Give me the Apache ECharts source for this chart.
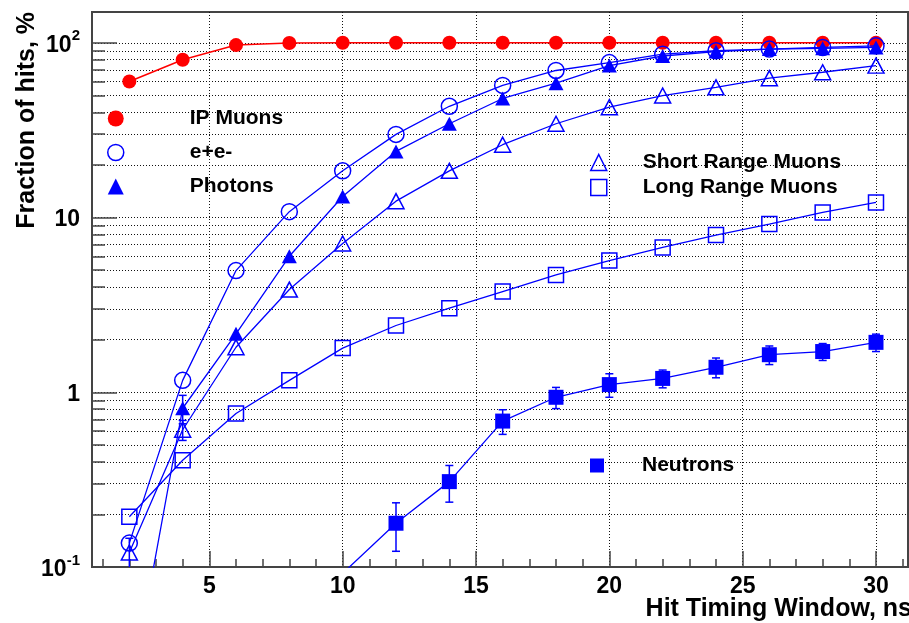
<!DOCTYPE html>
<html>
<head>
<meta charset="utf-8">
<script src="https://cdn.jsdelivr.net/npm/echarts@6/dist/echarts.min.js"></script>
<style>
html,body{margin:0;padding:0;background:#fff;}
#chart{width:909px;height:623px;}
</style>
</head>
<body>
<div id="chart"></div>
<script>
// ---- data ----
var xValues = [2, 4, 6, 8, 10, 12, 14, 16, 18, 20, 22, 24, 26, 28, 30];
var ipMuons = [60, 80, 97, 99.7, 100, 100, 100, 100, 100, 100, 100, 100, 100, 100, 100];
var eeValues = [0.137, 1.17, 4.97, 10.8, 18.5, 29.9, 43.3, 57, 69.4, 77, 86, 90, 92, 94, 96];
var photons = [0.0174, 0.81, 2.16, 6.0, 13.2, 23.9, 34.4, 48, 58.7, 74, 84, 89, 92, 93, 94];
var shortRange = [0.121, 0.61, 1.81, 3.87, 7.1, 12.4, 18.5, 26.1, 34.4, 42.8, 49.9, 55.6, 62.7, 67.8, 74];
var longRange = [0.194, 0.408, 0.756, 1.17, 1.79, 2.41, 3.03, 3.77, 4.69, 5.67, 6.74, 7.94, 9.17, 10.7, 12.2];
var neutronX = [10, 12, 14, 16, 18, 20, 22, 24, 26, 28, 30];
var neutrons = [0.092, 0.178, 0.308, 0.684, 0.936, 1.106, 1.2, 1.39, 1.64, 1.71, 1.93];
var neutronErr = [0, 0.055, 0.073, 0.11, 0.13, 0.17, 0.14, 0.18, 0.2, 0.19, 0.22];
var shortErrX = [2, 4];
var shortErr = [0.025, 0.08];
var photonErrX = [4];
var photonErr = [0.15];
var xMajorTicks = [5, 10, 15, 20, 25, 30];
var xMinorTicks = [1,2,3,4,6,7,8,9,11,12,13,14,16,17,18,19,21,22,23,24,26,27,28,29,31];
var yMajorTicks = [0.1, 1, 10, 100];
var yMinorTicks = [0.2,0.3,0.4,0.5,0.6,0.7,0.8,0.9,2,3,4,5,6,7,8,9,20,30,40,50,60,70,80,90];
var legendA = ['IP Muons', 'e+e-', 'Photons'];
var legendB = ['Short Range Muons', 'Long Range Muons'];
var legendC = ['Neutrons'];

function pairs(xs, ys) { return xs.map(function (x, i) { return [x, ys[i]]; }); }
function errs(xs, ys, es) { return xs.map(function (x, i) { return [x, ys[i] - es[i], ys[i] + es[i]]; }); }
function findY(xs, ys, x) { return ys[xs.indexOf(x)]; }

var FONT = "'Liberation Sans', Arial, Helvetica, sans-serif";
var BLUE = '#0000ff';
var RED = '#ff0000';
var OPEN = { color: 'rgba(0,0,0,0)', borderColor: BLUE, borderWidth: 1.5 };

function errRender(params, api) {
  var x = api.value(0), lo = api.value(1), hi = api.value(2);
  if (!(hi > lo)) return null;
  var p1 = api.coord([x, lo]), p2 = api.coord([x, hi]);
  var st = { stroke: BLUE, lineWidth: 1.5 };
  return {
    type: 'group',
    children: [
      { type: 'line', shape: { x1: p1[0], y1: p1[1], x2: p2[0], y2: p2[1] }, style: st },
      { type: 'line', shape: { x1: p1[0] - 4, y1: p1[1], x2: p1[0] + 4, y2: p1[1] }, style: st },
      { type: 'line', shape: { x1: p2[0] - 4, y1: p2[1], x2: p2[0] + 4, y2: p2[1] }, style: st }
    ]
  };
}

var dotted = { show: true, lineStyle: { color: '#111', width: 1, type: [1, 2] } };
var axisCol = '#444';

var legendText = function (pad) {
  return {
    fontSize: 21, fontWeight: 'bold', color: '#000', fontFamily: FONT,
    rich: { p: { width: pad }, t: { fontSize: 21, fontWeight: 'bold', color: '#000', fontFamily: FONT, lineHeight: 22 } }
  };
};
var legendFmt = function (name) { return '{p| }{t|' + name + '}'; };

var option = {
  animation: false,
  backgroundColor: '#fff',
  grid: { left: 92, right: 1, top: 12, bottom: 56, show: true, borderColor: axisCol, borderWidth: 2, backgroundColor: 'rgba(0,0,0,0)' },
  xAxis: [
    {
      type: 'value', min: 0.6, max: 31.2, position: 'bottom',
      axisLine: { show: true, lineStyle: { color: axisCol, width: 2 } },
      axisTick: { show: true, inside: true, length: 16, customValues: xMajorTicks, lineStyle: { color: axisCol, width: 1.5 } },
      axisLabel: { show: true, customValues: xMajorTicks, fontSize: 23, fontWeight: 'bold', color: '#000', fontFamily: FONT, margin: 8 },
      splitLine: dotted
    },
    {
      type: 'value', min: 0.6, max: 31.2, position: 'bottom', gridIndex: 0, offset: 0,
      axisLine: { show: false },
      axisTick: { show: true, inside: true, length: 8, customValues: xMinorTicks, lineStyle: { color: axisCol, width: 1.5 } },
      axisLabel: { show: false },
      splitLine: { show: false }
    }
  ],
  yAxis: [
    {
      type: 'log', logBase: 10, min: 0.1, max: 150, position: 'left',
      axisLine: { show: true, lineStyle: { color: axisCol, width: 2 } },
      axisTick: { show: true, inside: true, length: 25, customValues: yMajorTicks, lineStyle: { color: axisCol, width: 1.5 } },
      axisLabel: {
        show: true, customValues: yMajorTicks, margin: 12, color: '#000', fontFamily: FONT, fontWeight: 'bold', fontSize: 23,
        formatter: function (v) {
          var e = Math.round(Math.log10(v));
          if (e === 0) return '{b|1}';
          if (e === 1) return '{b|10}';
          return '{b|10}{s|' + e + '}';
        },
        rich: {
          b: { fontSize: 23, fontWeight: 'bold', color: '#000', fontFamily: FONT, lineHeight: 28, verticalAlign: 'bottom' },
          s: { fontSize: 15, fontWeight: 'bold', color: '#000', fontFamily: FONT, lineHeight: 28, verticalAlign: 'top' }
        }
      },
      splitLine: dotted
    },
    {
      type: 'log', logBase: 10, min: 0.1, max: 150, position: 'left', gridIndex: 0, offset: 0,
      axisLine: { show: false },
      axisTick: { show: true, inside: true, length: 13, customValues: yMinorTicks, lineStyle: { color: axisCol, width: 1.5 } },
      axisLabel: { show: false },
      splitLine: dotted
    }
  ],
  legend: [
    {
      left: 107, top: 108, orient: 'vertical', padding: 0, itemGap: 13, itemWidth: 16, itemHeight: 16,
      selectedMode: false, formatter: legendFmt, textStyle: legendText(61),
      data: [
        { name: legendA[0], icon: 'circle', itemStyle: { color: RED, borderWidth: 0 } },
        { name: legendA[1], icon: 'circle', itemStyle: OPEN },
        { name: legendA[2], icon: 'triangle', itemStyle: { color: BLUE, borderWidth: 0 } }
      ]
    },
    {
      left: 590, top: 152, orient: 'vertical', padding: 0, itemGap: 4, itemWidth: 16, itemHeight: 16,
      selectedMode: false, formatter: legendFmt, textStyle: legendText(31),
      data: [
        { name: legendB[0], icon: 'triangle', itemStyle: OPEN },
        { name: legendB[1], icon: 'rect', itemStyle: OPEN }
      ]
    },
    {
      left: 590, top: 455, orient: 'vertical', padding: 0, itemGap: 4, itemWidth: 14, itemHeight: 14,
      selectedMode: false, formatter: legendFmt, textStyle: legendText(33),
      data: [
        { name: legendC[0], icon: 'rect', itemStyle: { color: BLUE, borderWidth: 0 } }
      ]
    }
  ],
  graphic: [
    {
      type: 'text', x: 27, y: 12, rotation: Math.PI / 2,
      style: { text: 'Fraction of hits, %', font: 'bold 25px ' + FONT, fill: '#000', align: 'right', verticalAlign: 'middle' }
    },
    {
      type: 'text', x: 912, y: 609,
      style: { text: 'Hit Timing Window, ns', font: 'bold 25px ' + FONT, fill: '#000', align: 'right', verticalAlign: 'middle' }
    }
  ],
  series: [
    {
      name: legendA[0], type: 'line', data: pairs(xValues, ipMuons), symbol: 'circle', symbolSize: 14,
      itemStyle: { color: RED }, lineStyle: { color: RED, width: 1.5 }, emphasis: { disabled: true }, clip: true, z: 2
    },
    {
      name: legendA[1], type: 'line', data: pairs(xValues, eeValues), symbol: 'circle', symbolSize: 16,
      itemStyle: OPEN, lineStyle: { color: BLUE, width: 1.3 }, emphasis: { disabled: true }, clip: true, z: 3
    },
    {
      name: legendA[2], type: 'line', data: pairs(xValues, photons), symbol: 'triangle', symbolSize: [15, 14],
      itemStyle: { color: BLUE }, lineStyle: { color: BLUE, width: 1.3 }, emphasis: { disabled: true }, clip: true, z: 3
    },
    {
      name: legendB[0], type: 'line', data: pairs(xValues, shortRange), symbol: 'triangle', symbolSize: [16, 15],
      itemStyle: OPEN, lineStyle: { color: BLUE, width: 1.3 }, emphasis: { disabled: true }, clip: true, z: 3
    },
    {
      name: legendB[1], type: 'line', data: pairs(xValues, longRange), symbol: 'rect', symbolSize: 15,
      itemStyle: OPEN, lineStyle: { color: BLUE, width: 1.3 }, emphasis: { disabled: true }, clip: true, z: 3
    },
    {
      name: legendC[0], type: 'line', data: pairs(neutronX, neutrons), symbol: 'rect', symbolSize: 15,
      itemStyle: { color: BLUE }, lineStyle: { color: BLUE, width: 1.3 }, emphasis: { disabled: true }, clip: true, z: 3
    },
    {
      name: 'neutronErrors', type: 'custom', renderItem: errRender, clip: true, z: 3,
      encode: { x: 0, y: [1, 2] }, data: errs(neutronX, neutrons, neutronErr)
    },
    {
      name: 'shortErrors', type: 'custom', renderItem: errRender, clip: true, z: 3,
      encode: { x: 0, y: [1, 2] },
      data: errs(shortErrX, shortErrX.map(function (x) { return findY(xValues, shortRange, x); }), shortErr)
    },
    {
      name: 'photonErrors', type: 'custom', renderItem: errRender, clip: true, z: 3,
      encode: { x: 0, y: [1, 2] },
      data: errs(photonErrX, photonErrX.map(function (x) { return findY(xValues, photons, x); }), photonErr)
    }
  ]
};

var chart = echarts.init(document.getElementById('chart'), null, { renderer: 'canvas' });
chart.setOption(option);
</script>
</body>
</html>
